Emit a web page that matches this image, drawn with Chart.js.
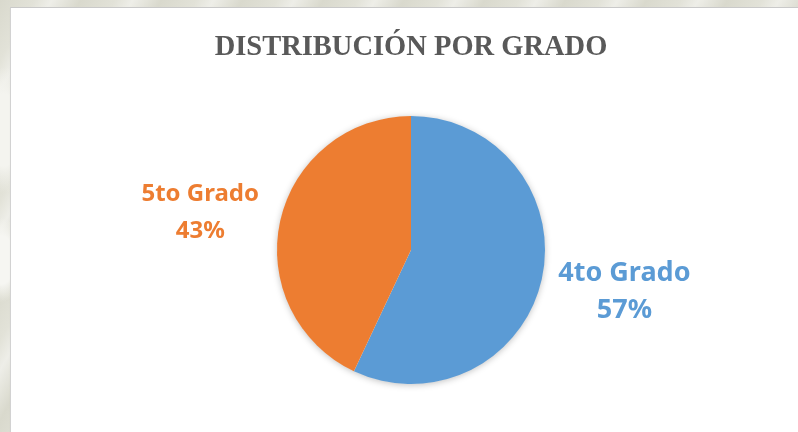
<!DOCTYPE html>
<html>
<head>
<meta charset="utf-8">
<script src="https://cdn.jsdelivr.net/npm/chart.js@4/dist/chart.umd.min.js"></script>
<style>
  html, body { margin: 0; padding: 0; }
  body {
    width: 798px; height: 432px; overflow: hidden; position: relative;
    background:
      radial-gradient(ellipse 40px 90px at 4px 130px, #f4f4ef 40%, transparent 70%),
      radial-gradient(ellipse 30px 60px at 2px 260px, #f6f6f2 40%, transparent 70%),
      repeating-linear-gradient(120deg, #d9d9cd 0px, #e2e2d8 30px, #eeeee8 45px, #d9d9cd 70px);
  }
  #panel {
    position: absolute; left: 10px; top: 7px; width: 800px; height: 440px;
    background: #ffffff;
    border-left: 1px solid #d2d2d2; border-top: 1px solid #c9c9c9;
    box-shadow: 0 1px 1px rgba(0,0,0,0.06);
  }
  #wrap { position: absolute; left: 0; top: 0; width: 798px; height: 432px; }
</style>
</head>
<body>
<div id="panel"></div>
<div id="wrap"><canvas id="gradeChart"></canvas></div>
<script>
//-------------------------- Data --------------------------//
const chartTitle = 'DISTRIBUCIÓN POR GRADO';
const grades = ['4to Grado', '5to Grado'];
const students = [57, 43];
const sliceColors = ['#5B9BD5', '#ED7D31'];
//----------------------------------------------------------//

// label look per slice (the office chart has the bigger slice label larger)
const labelSizes = [27, 24];
const labelDist = [1.62, 1.6];

// soft shadow behind the pie, like the office chart
const pieShadow = {
  id: 'pieShadow',
  beforeDatasetsDraw(chart) {
    const arc = chart.getDatasetMeta(0).data[0];
    if (!arc) return;
    const ctx = chart.ctx;
    ctx.save();
    ctx.shadowColor = 'rgba(0,0,0,0.28)';
    ctx.shadowBlur = 7;
    ctx.shadowOffsetX = 0;
    ctx.shadowOffsetY = 1;
    ctx.beginPath();
    ctx.arc(arc.x, arc.y, arc.outerRadius - 0.5, 0, Math.PI * 2);
    ctx.fillStyle = '#ffffff';
    ctx.fill();
    ctx.restore();
  }
};

// category name + percent outside each slice
const sliceLabels = {
  id: 'sliceLabels',
  afterDatasetsDraw(chart) {
    const ctx = chart.ctx;
    const meta = chart.getDatasetMeta(0);
    const values = chart.data.datasets[0].data;
    const total = values.reduce((a, b) => a + b, 0);
    meta.data.forEach((arc, i) => {
      const mid = (arc.startAngle + arc.endAngle) / 2 - 0.035;
      const dist = arc.outerRadius * labelDist[i];
      const x = arc.x + Math.cos(mid) * dist;
      const y = arc.y + Math.sin(mid) * dist + 2;
      const pct = Math.round(values[i] / total * 100) + '%';
      ctx.save();
      ctx.fillStyle = sliceColors[i];
      ctx.font = 'bold ' + labelSizes[i] + 'px "Noto Sans", "Open Sans", sans-serif';
      ctx.textAlign = 'center';
      ctx.textBaseline = 'middle';
      ctx.fillText(chart.data.labels[i], x, y - 18.5);
      ctx.fillText(pct, x, y + 18.5);
      ctx.restore();
    });
  }
};

const config = {
  type: 'pie',
  data: {
    labels: grades,
    datasets: [{
      data: students,
      backgroundColor: sliceColors,
      borderWidth: 0,
      hoverOffset: 0
    }]
  },
  options: {
    responsive: true,
    maintainAspectRatio: false,
    animation: false,
    layout: { padding: { top: 10, left: 24, right: 0, bottom: 48 } },
    plugins: {
      legend: { display: false },
      tooltip: { enabled: false },
      title: {
        display: true,
        text: chartTitle,
        color: '#595959',
        font: { family: '"Liberation Serif", "Times New Roman", serif', size: 28.5, weight: 'bold', lineHeight: 1.2 },
        padding: { top: 20.9, bottom: 50.9 }
      }
    }
  },
  plugins: [pieShadow, sliceLabels]
};

const gradeChart = new Chart(document.getElementById('gradeChart'), config);
</script>
</body>
</html>
